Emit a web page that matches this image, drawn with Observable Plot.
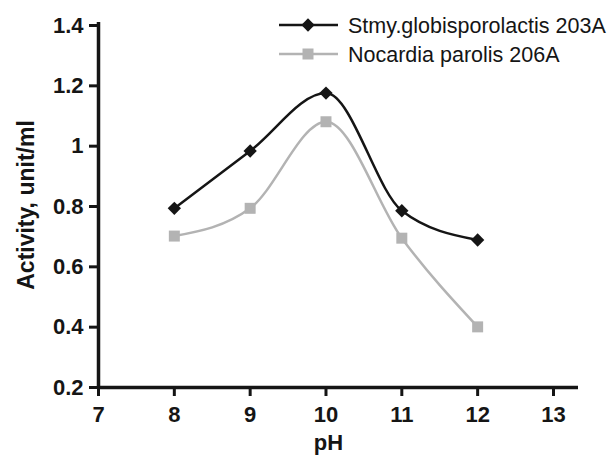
<!DOCTYPE html>
<html>
<head>
<meta charset="utf-8">
<script src="https://cdn.jsdelivr.net/npm/d3@7"></script>
<script src="https://cdn.jsdelivr.net/npm/@observablehq/plot@0.6"></script>
<style>
  html, body { margin: 0; padding: 0; background: #fff; }
  #wrap { position: relative; width: 607px; height: 456px; overflow: hidden; }
  #legend { position: absolute; left: 0; top: 0; }
</style>
</head>
<body>
<div id="wrap"></div>
<script>
const pH = [8, 9, 10, 11, 12];
const stmyValues = [0.794, 0.984, 1.176, 0.786, 0.689];
const nocardiaValues = [0.702, 0.794, 1.081, 0.695, 0.401];
const seriesNames = ["Stmy.globisporolactis 203A", "Nocardia parolis 206A"];
const seriesColors = ["#151515", "#b3b3b3"];
const xTicks = [7, 8, 9, 10, 11, 12, 13];
const yTicks = [0.2, 0.4, 0.6, 0.8, 1.0, 1.2, 1.4];

const stmy = pH.map((x, i) => ({x, y: stmyValues[i]}));
const nocardia = pH.map((x, i) => ({x, y: nocardiaValues[i]}));

const font = "'Liberation Sans', Arial, Helvetica, sans-serif";

const plot = Plot.plot({
  width: 607,
  height: 456,
  marginLeft: 98,
  marginRight: 29,
  marginTop: 22,
  marginBottom: 69,
  style: {fontFamily: font, fontSize: "22px", fontWeight: "bold", color: "#151515", background: "#fff"},
  x: {domain: [7, 13.33], ticks: xTicks},
  y: {domain: [0.2, 1.41], ticks: yTicks},
  marks: [
    Plot.axisX({ticks: xTicks, tickSize: 9, tickPadding: 10, strokeWidth: 3, label: null, tickFormat: d => String(d), fontSize: 22, fontWeight: "bold"}),
    Plot.axisY({ticks: yTicks, tickSize: 9, tickPadding: 6, strokeWidth: 3, label: null, tickFormat: d => String(+d.toFixed(1)), fontSize: 22, fontWeight: "bold"}),
    Plot.ruleX([7], {stroke: "#151515", strokeWidth: 3.5}),
    Plot.ruleY([0.2], {stroke: "#151515", strokeWidth: 3.5}),
    Plot.line(nocardia, {x: "x", y: "y", stroke: seriesColors[1], strokeWidth: 2.5, curve: "monotone-x"}),
    Plot.dot(nocardia, {x: "x", y: "y", symbol: "square", r: 6.2, fill: seriesColors[1], stroke: "none"}),
    Plot.line(stmy, {x: "x", y: "y", stroke: seriesColors[0], strokeWidth: 2.5, curve: "monotone-x"}),
    Plot.dot(stmy, {x: "x", y: "y", symbol: "diamond2", r: 6, fill: seriesColors[0], stroke: "none"}),
    Plot.text(["pH"], {frameAnchor: "bottom", dx: -10, dy: 47, lineAnchor: "top", textAnchor: "middle", fontSize: 22, fontWeight: "bold", fill: "#151515"}),
    Plot.text(["Activity, unit/ml"], {frameAnchor: "left", dx: -72, rotate: -90, textAnchor: "middle", lineAnchor: "middle", fontSize: 23, fontWeight: "bold", fill: "#151515"})
  ]
});

const wrap = document.getElementById("wrap");
wrap.appendChild(plot);

// Legend overlay
const ns = "http://www.w3.org/2000/svg";
const leg = document.createElementNS(ns, "svg");
leg.setAttribute("id", "legend");
leg.setAttribute("width", 607);
leg.setAttribute("height", 80);
const rows = [25, 54];
seriesNames.forEach((name, i) => {
  const y = rows[i];
  const line = document.createElementNS(ns, "line");
  line.setAttribute("x1", 279); line.setAttribute("x2", 338);
  line.setAttribute("y1", y); line.setAttribute("y2", y);
  line.setAttribute("stroke", seriesColors[i]);
  line.setAttribute("stroke-width", 2.5);
  leg.appendChild(line);
  const sym = document.createElementNS(ns, "path");
  const s = i === 0 ? d3.symbol(d3.symbolDiamond2, 113)() : d3.symbol(d3.symbolSquare, 121)();
  sym.setAttribute("d", s);
  sym.setAttribute("transform", `translate(308,${y})`);
  sym.setAttribute("fill", seriesColors[i]);
  leg.appendChild(sym);
  const t = document.createElementNS(ns, "text");
  t.setAttribute("x", 348);
  t.setAttribute("y", y);
  t.setAttribute("dy", "0.35em");
  t.setAttribute("font-family", font);
  t.setAttribute("font-size", 21.5);
  t.setAttribute("fill", "#151515");
  t.textContent = name;
  leg.appendChild(t);
});
wrap.appendChild(leg);
</script>
</body>
</html>
